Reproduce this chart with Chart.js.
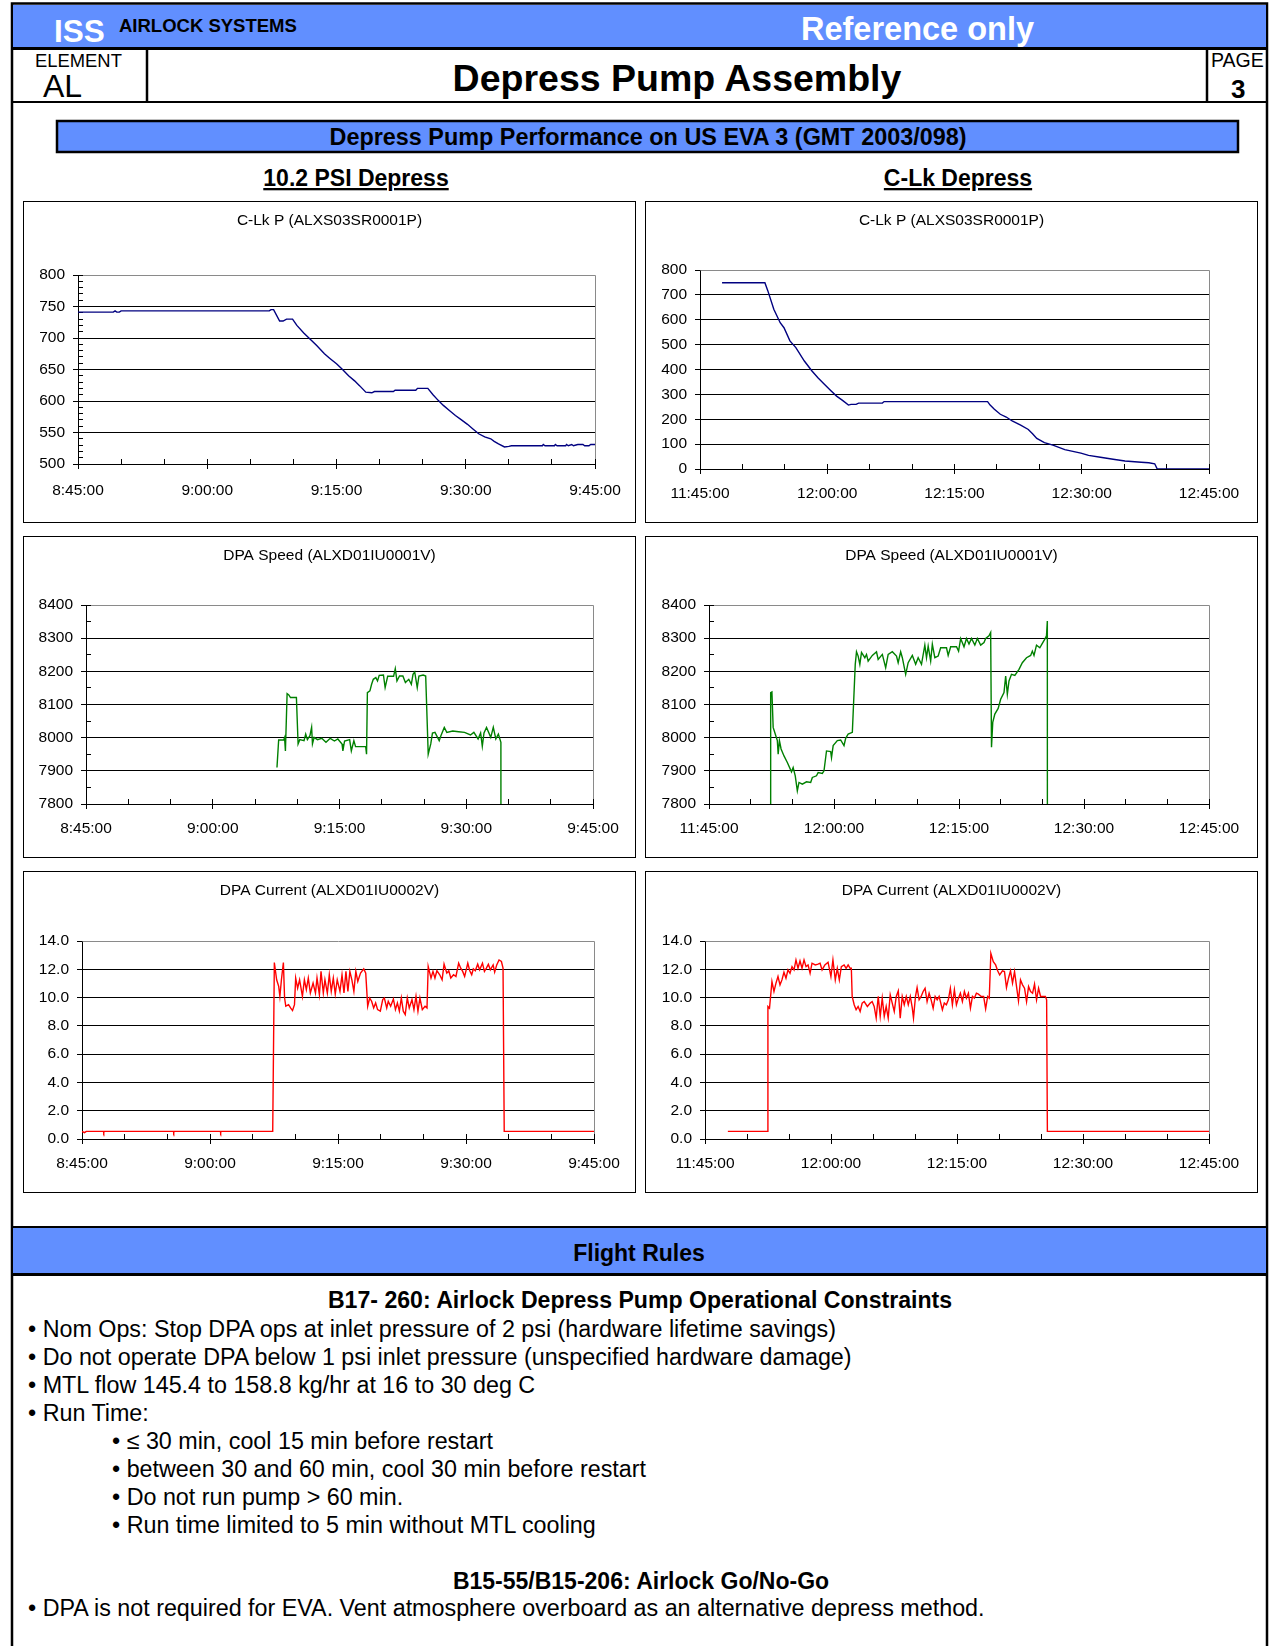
<!DOCTYPE html>
<html>
<head>
<meta charset="utf-8">
<title>Depress Pump Assembly</title>
<script src="https://cdn.jsdelivr.net/npm/chart.js@4.4.1/dist/chart.umd.min.js"></script>
<style>
  html, body { margin: 0; padding: 0; background: #fff; }
  body { width: 1270px; height: 1646px; position: relative; overflow: hidden; }
  #sheet { position: absolute; left: 0; top: 0; }
  #sheet text { font-family: 'Liberation Sans', Arial, sans-serif; }
  .box { position: absolute; width: 613px; height: 322px; box-sizing: border-box; border: 1px solid #000; background: #fff; }
  .box canvas { position: absolute; left: 0; top: 0; }
</style>
</head>
<body>

<svg id="sheet" width="1270" height="1646" xmlns="http://www.w3.org/2000/svg">
  <!-- page frame -->
  <rect x="12" y="3.5" width="1255" height="1660" fill="none" stroke="#000" stroke-width="2.5"/>
  <!-- top banner -->
  <rect x="13" y="5" width="1253" height="42" fill="#618fff"/>
  <line x1="13" y1="48.5" x2="1266" y2="48.5" stroke="#000" stroke-width="3"/>
  <text x="54" y="41.5" font-size="31.5" font-weight="bold" fill="#fff">ISS</text>
  <text x="119" y="32" font-size="18.5" font-weight="bold" fill="#000">AIRLOCK SYSTEMS</text>
  <text x="801" y="39.5" font-size="32.5" font-weight="bold" fill="#fff">Reference only</text>
  <!-- title row -->
  <line x1="147" y1="50" x2="147" y2="101" stroke="#000" stroke-width="2.5"/>
  <line x1="1207" y1="50" x2="1207" y2="101" stroke="#000" stroke-width="2.5"/>
  <line x1="13" y1="102" x2="1266" y2="102" stroke="#000" stroke-width="2"/>
  <text x="35" y="67" font-size="18.4">ELEMENT</text>
  <text x="43" y="97" font-size="32">AL</text>
  <text x="1211" y="67" font-size="19.5">PAGE</text>
  <text x="1231" y="98" font-size="26" font-weight="bold">3</text>
  <text x="677" y="91" font-size="37.5" font-weight="bold" text-anchor="middle">Depress Pump Assembly</text>
  <!-- section banner -->
  <rect x="57" y="121" width="1181" height="31" fill="#618fff" stroke="#000" stroke-width="2.5"/>
  <text x="648" y="145" font-size="23.4" font-weight="bold" text-anchor="middle">Depress Pump Performance on US EVA 3 (GMT 2003/098)</text>
  <text x="356" y="186" font-size="23" font-weight="bold" text-anchor="middle" style="text-decoration: underline">10.2 PSI Depress</text>
  <text x="958" y="186" font-size="23" font-weight="bold" text-anchor="middle" style="text-decoration: underline">C-Lk Depress</text>
  <!-- flight rules -->
  <line x1="13" y1="1227" x2="1266" y2="1227" stroke="#000" stroke-width="2"/>
  <rect x="13" y="1228" width="1253" height="45" fill="#618fff"/>
  <line x1="13" y1="1274.5" x2="1266" y2="1274.5" stroke="#000" stroke-width="3"/>
  <text x="639" y="1260.5" font-size="23" font-weight="bold" text-anchor="middle">Flight Rules</text>
  <text x="640" y="1308" font-size="23.1" font-weight="bold" text-anchor="middle">B17- 260: Airlock Depress Pump Operational Constraints</text>
  <text x="28" y="1337" font-size="23.3">• Nom Ops: Stop DPA ops at inlet pressure of 2 psi (hardware lifetime savings)</text>
  <text x="28" y="1365" font-size="23.3">• Do not operate DPA below 1 psi inlet pressure (unspecified hardware damage)</text>
  <text x="28" y="1393" font-size="23.3">• MTL flow 145.4 to 158.8 kg/hr at 16 to 30 deg C</text>
  <text x="28" y="1421" font-size="23.3">• Run Time:</text>
  <text x="112" y="1449" font-size="23.3">• ≤ 30 min, cool 15 min before restart</text>
  <text x="112" y="1477" font-size="23.3">• between 30 and 60 min, cool 30 min before restart</text>
  <text x="112" y="1505" font-size="23.3">• Do not run pump &gt; 60 min.</text>
  <text x="112" y="1533" font-size="23.3">• Run time limited to 5 min without MTL cooling</text>
  <text x="641" y="1588.5" font-size="23" font-weight="bold" text-anchor="middle">B15-55/B15-206: Airlock Go/No-Go</text>
  <text x="28" y="1616" font-size="23.3">• DPA is not required for EVA. Vent atmosphere overboard as an alternative depress method.</text>
</svg>

<div class="box" style="left:23px;top:201px"><canvas id="clkA" width="611" height="320"></canvas></div>
<div class="box" style="left:645px;top:201px"><canvas id="clkB" width="611" height="320"></canvas></div>
<div class="box" style="left:23px;top:536px"><canvas id="spdA" width="611" height="320"></canvas></div>
<div class="box" style="left:645px;top:536px"><canvas id="spdB" width="611" height="320"></canvas></div>
<div class="box" style="left:23px;top:871px"><canvas id="curA" width="611" height="320"></canvas></div>
<div class="box" style="left:645px;top:871px"><canvas id="curB" width="611" height="320"></canvas></div>

<script>
// time axis labels (one every 15 min); sample times below are minutes after the first label
const timesA = ['8:45:00', '9:00:00', '9:15:00', '9:30:00', '9:45:00'];
const timesB = ['11:45:00', '12:00:00', '12:15:00', '12:30:00', '12:45:00'];

// C-Lk pressure, 10.2 psi depress
const clkA_min = [0, 4.1, 4.3, 4.5, 4.8, 5.0, 5.3, 22.2, 22.4, 22.7, 23.4, 23.8, 24.2, 24.9, 25.4, 26.2, 26.8, 27.7, 28.6, 29.2, 30.0, 30.7, 31.4, 32.1, 32.7, 33.4, 34.1, 34.4, 36.6, 36.8, 39.2, 39.4, 40.6, 41.2, 41.8, 42.4, 43.1, 43.8, 44.5, 45.2, 45.8, 46.5, 47.2, 47.9, 48.3, 48.8, 49.5, 50.0, 50.3, 53.9, 54.0, 54.2, 55.3, 55.4, 55.6, 56.6, 56.7, 56.9, 57.3, 57.5, 58.0, 58.6, 58.8, 59.3, 59.5, 60];
const clkA_p = [741, 741, 743, 741, 741, 743, 743, 743, 745, 745, 727, 727, 730, 730, 720, 708, 700, 688, 675, 668, 659, 650, 640, 632, 624, 614, 613, 615, 615, 617, 617, 620, 620, 610, 601, 593, 585, 577, 570, 563, 556, 548, 543, 540, 536, 532, 527, 528, 529, 529, 531, 529, 529, 531, 529, 529, 531, 529, 531, 529, 531, 531, 529, 529, 531, 531];

// C-Lk pressure, C-Lk depress
const clkB_min = [2.6, 7.65, 8.0, 8.7, 9.45, 9.9, 10.6, 11.3, 12.3, 13.2, 13.9, 14.6, 15.4, 16.1, 16.8, 17.5, 17.8, 18.4, 18.7, 21.5, 21.7, 33.9, 34.2, 34.7, 35.4, 36.1, 36.8, 37.8, 38.7, 39.2, 39.7, 40.6, 41.6, 43.0, 44.9, 45.8, 47.2, 48.7, 50.1, 52.0, 52.9, 53.6, 53.9, 60];
const clkB_p = [749, 749, 716, 642, 588, 568, 515, 488, 434, 394, 367, 343, 316, 293, 276, 257, 260, 260, 265, 265, 271, 271, 257, 240, 220, 209, 193, 176, 159, 142, 123, 106, 96, 78, 64, 55, 47, 39, 32, 27, 25, 21, 0, 0];

// DPA speed, 10.2 psi depress
const spdA_min = [22.6, 22.8, 23.4, 23.5, 23.6, 23.8, 24.0, 24.2, 24.9, 25.1, 25.3, 25.8, 26.0, 26.2, 26.5, 26.7, 26.8, 27.0, 27.4, 27.9, 28.4, 28.9, 29.4, 29.8, 30.3, 30.4, 30.6, 31.2, 31.4, 31.7, 31.9, 33.1, 33.2, 33.3, 33.6, 33.8, 34.0, 34.3, 34.5, 34.7, 35.2, 35.4, 35.7, 36.4, 36.6, 36.8, 37.1, 37.5, 37.8, 38.2, 38.5, 38.7, 38.9, 39.2, 39.4, 39.9, 40.2, 40.5, 40.8, 41.0, 41.3, 41.8, 42.0, 42.4, 42.7, 43.4, 44.1, 44.8, 45.5, 45.9, 46.4, 46.7, 46.9, 47.1, 47.4, 47.9, 48.2, 48.5, 48.8, 49.1, 49.3];
const spdA_rpm = [7910, 7993, 7993, 8000, 7960, 8133, 8129, 8121, 8121, 7981, 7994, 7991, 8011, 7994, 8006, 8031, 7981, 8001, 7994, 7998, 7986, 7998, 7990, 7996, 7981, 7960, 7990, 7994, 7960, 7991, 7973, 7973, 7950, 8136, 8141, 8161, 8176, 8181, 8171, 8188, 8189, 8151, 8185, 8185, 8208, 8171, 8186, 8186, 8166, 8176, 8161, 8191, 8198, 8151, 8186, 8189, 8186, 7950, 7981, 8014, 8016, 7991, 8006, 8031, 8016, 8020, 8018, 8016, 8008, 8016, 7996, 8014, 7974, 8014, 8031, 8001, 8031, 7996, 8011, 7986, 0];

// DPA speed, C-Lk depress
const spdB_min = [7.35, 7.4, 7.55, 7.7, 7.95, 8.2, 8.3, 8.45, 8.65, 9.0, 9.4, 9.9, 10.1, 10.35, 10.6, 10.8, 11.2, 11.7, 12.2, 12.4, 12.9, 13.1, 13.6, 13.8, 14.1, 14.6, 14.7, 14.9, 15.4, 15.8, 16.2, 16.4, 16.7, 17.2, 17.55, 17.7, 17.9, 18.1, 18.3, 18.7, 18.9, 19.1, 19.6, 20.1, 20.3, 20.8, 21.2, 21.5, 22.0, 22.5, 22.7, 23.0, 23.2, 23.6, 23.9, 24.4, 24.8, 25.1, 25.5, 25.9, 26.1, 26.3, 26.6, 26.8, 27.1, 27.5, 27.8, 28.5, 28.7, 29.0, 29.7, 29.95, 30.2, 30.6, 30.9, 31.2, 31.5, 31.9, 32.2, 32.6, 33.0, 33.2, 33.6, 33.8, 33.9, 34.05, 34.3, 34.7, 35.0, 35.4, 35.6, 35.8, 36.0, 36.3, 36.7, 37.2, 37.6, 38.1, 38.6, 38.8, 39.0, 39.3, 39.7, 39.95, 40.3, 40.5, 40.6, 40.7];
const spdB_rpm = [0, 8136, 8138, 8031, 8011, 7991, 7950, 7991, 7966, 7945, 7925, 7897, 7910, 7885, 7840, 7865, 7860, 7867, 7865, 7880, 7885, 7895, 7892, 7900, 7960, 7958, 7940, 7976, 7991, 7993, 7976, 7998, 8011, 8016, 8221, 8259, 8246, 8221, 8257, 8241, 8251, 8231, 8248, 8259, 8236, 8251, 8211, 8251, 8259, 8246, 8226, 8259, 8241, 8191, 8226, 8248, 8221, 8241, 8221, 8279, 8241, 8276, 8231, 8282, 8241, 8246, 8271, 8271, 8248, 8274, 8274, 8261, 8299, 8274, 8299, 8282, 8299, 8279, 8299, 8279, 8287, 8299, 8307, 8317, 7971, 8046, 8071, 8088, 8116, 8136, 8186, 8131, 8171, 8191, 8188, 8206, 8226, 8241, 8248, 8261, 8248, 8279, 8271, 8282, 8297, 8307, 8352, 0];

// DPA current, 10.2 psi depress
const curA_min = [0, 0.3, 0.5, 2.5, 2.55, 2.6, 10.7, 10.75, 10.8, 16.2, 16.25, 16.3, 22.35, 22.54, 22.81, 23.05, 23.19, 23.37, 23.6, 23.74, 23.88, 24.21, 24.44, 24.67, 24.9, 25.04, 25.27, 25.5, 25.83, 26.06, 26.29, 26.52, 26.76, 27.08, 27.36, 27.54, 27.82, 28.01, 28.28, 28.47, 28.75, 28.98, 29.21, 29.45, 29.68, 29.91, 30.23, 30.47, 30.7, 30.93, 31.16, 31.39, 31.62, 31.86, 32.09, 32.32, 32.64, 33.02, 33.25, 33.48, 33.71, 33.94, 34.18, 34.41, 34.64, 34.96, 35.24, 35.43, 35.71, 35.89, 36.17, 36.49, 36.73, 36.96, 37.19, 37.42, 37.65, 37.88, 38.12, 38.35, 38.67, 38.9, 39.14, 39.37, 39.6, 39.88, 40.2, 40.43, 40.57, 40.9, 41.13, 41.36, 41.59, 41.92, 42.2, 42.43, 42.75, 42.98, 43.22, 43.54, 43.82, 44.14, 44.38, 44.61, 44.84, 45.21, 45.44, 45.67, 45.86, 46.09, 46.37, 46.6, 46.93, 47.16, 47.39, 47.62, 47.85, 48.18, 48.36, 48.6, 48.87, 49.15, 49.34, 49.48, 60];
const curA_amp = [0.54, 0.45, 0.54, 0.54, 0.45, 0.54, 0.54, 0.45, 0.54, 0.54, 0.45, 0.54, 0.54, 12.48, 11.26, 10.79, 10.09, 11.26, 12.48, 9.97, 9.39, 9.5, 9.27, 9.08, 9.5, 11.38, 10.67, 11.26, 10.09, 11.26, 10.56, 11.38, 10.32, 11.03, 10.32, 11.38, 10.21, 11.85, 10.32, 11.26, 10.32, 11.61, 10.44, 11.38, 10.25, 11.26, 10.44, 11.61, 10.32, 11.85, 10.44, 11.85, 11.26, 10.44, 11.85, 11.14, 11.73, 12.03, 11.73, 9.39, 9.97, 9.74, 9.27, 9.62, 9.15, 9.04, 9.86, 9.97, 9.27, 9.74, 9.39, 9.9, 9.15, 9.62, 9.04, 9.97, 9.04, 8.8, 9.97, 9.27, 9.86, 9.15, 10.09, 9.04, 9.97, 9.15, 9.39, 9.27, 12.2, 11.38, 11.85, 11.38, 11.9, 11.61, 11.26, 12.36, 11.73, 11.9, 11.38, 11.61, 11.49, 12.43, 12.08, 11.85, 11.49, 12.43, 11.9, 11.61, 12.03, 11.9, 12.36, 11.96, 12.43, 11.85, 12.08, 12.36, 11.96, 12.31, 11.8, 12.31, 12.66, 12.55, 12.08, 0.54, 0.54];

// DPA current, C-Lk depress
const curB_min = [2.72, 7.4, 7.49, 7.68, 7.97, 8.21, 8.45, 8.69, 8.93, 9.16, 9.4, 9.64, 9.88, 10.12, 10.36, 10.6, 10.83, 11.07, 11.31, 11.55, 11.79, 12.03, 12.27, 12.51, 12.74, 13.13, 13.46, 13.7, 13.94, 14.27, 14.65, 14.99, 15.23, 15.51, 15.75, 15.99, 16.23, 16.56, 16.8, 17.04, 17.28, 17.42, 17.52, 17.76, 17.99, 18.23, 18.47, 18.71, 18.95, 19.33, 19.67, 19.9, 20.14, 20.38, 20.62, 20.86, 21.1, 21.34, 21.57, 21.81, 22.05, 22.29, 22.53, 22.77, 23.01, 23.24, 23.48, 23.72, 23.96, 24.2, 24.44, 24.68, 24.82, 25.06, 25.25, 25.49, 25.73, 25.97, 26.2, 26.44, 26.68, 26.92, 27.16, 27.4, 27.64, 27.87, 28.26, 28.49, 28.73, 28.97, 29.21, 29.45, 29.69, 29.93, 30.17, 30.4, 30.64, 30.88, 31.12, 31.36, 31.6, 31.84, 32.07, 32.31, 32.55, 32.89, 33.17, 33.41, 33.65, 33.84, 34.03, 34.32, 34.6, 34.84, 35.08, 35.41, 35.65, 35.89, 36.13, 36.37, 36.61, 36.85, 37.09, 37.32, 37.56, 37.8, 38.04, 38.28, 38.52, 38.76, 39.0, 39.23, 39.47, 39.71, 39.95, 40.52, 40.67, 40.76, 60];
const curB_amp = [0.54, 0.54, 9.37, 9.25, 11.13, 10.43, 11.02, 11.49, 10.9, 11.25, 11.79, 11.37, 11.96, 11.72, 12.19, 11.96, 12.66, 12.07, 12.59, 12.07, 12.66, 12.19, 12.31, 11.72, 12.43, 12.31, 12.36, 12.43, 11.96, 12.31, 12.5, 11.49, 12.66, 11.25, 12.07, 11.25, 12.19, 12.31, 12.07, 12.31, 12.07, 12.07, 10.08, 9.49, 9.14, 9.37, 9.02, 9.61, 9.72, 9.37, 9.61, 9.72, 9.37, 8.55, 10.08, 8.67, 9.96, 8.67, 9.37, 8.55, 10.19, 9.61, 9.02, 10.08, 10.48, 8.55, 10.08, 9.49, 10.08, 9.49, 10.08, 9.25, 8.55, 10.08, 10.71, 9.84, 10.08, 10.43, 10.66, 9.72, 10.31, 9.84, 9.25, 10.08, 9.84, 10.08, 9.14, 9.61, 9.49, 9.84, 10.66, 9.49, 10.55, 9.49, 9.96, 10.31, 9.72, 10.43, 9.96, 10.31, 9.25, 10.08, 9.96, 10.31, 10.24, 10.08, 10.08, 9.2, 10.08, 9.96, 13.13, 12.54, 12.31, 11.89, 11.6, 11.89, 11.84, 10.71, 11.37, 11.89, 11.02, 11.84, 10.78, 9.77, 11.25, 10.9, 10.66, 9.72, 10.78, 10.43, 10.31, 10.95, 9.84, 10.66, 10.08, 10.08, 9.84, 0.54, 0.54];

const FONT = "'Liberation Sans', Arial, sans-serif";
Chart.defaults.font.family = FONT;
Chart.defaults.font.size = 15.5;
Chart.defaults.color = '#000';

// same rounding Chart.js uses for crisp 1px lines
const crisp = v => Math.round(v - 0.5) + 0.5;

// grey frame on the top and right edges of the plot area
const plotFrame = {
  id: 'plotFrame',
  beforeDatasetsDraw(chart) {
    const { ctx, chartArea: a } = chart;
    ctx.save();
    ctx.strokeStyle = '#8a8a8a';
    ctx.lineWidth = 1;
    ctx.beginPath();
    ctx.moveTo(crisp(a.left), crisp(a.top));
    ctx.lineTo(crisp(a.right), crisp(a.top));
    ctx.lineTo(crisp(a.right), a.bottom);
    ctx.stroke();
    ctx.restore();
  }
};

// short ticks pointing into the plot (every 5 min on x, optional on y)
const minorTicks = {
  id: 'minorTicks',
  beforeDatasetsDraw(chart, args, opts) {
    const { ctx, chartArea: a, scales: { x, y } } = chart;
    const len = opts.len || 5;
    ctx.save();
    ctx.strokeStyle = '#000';
    ctx.lineWidth = 1;
    ctx.beginPath();
    if (opts.x) {
      for (let v = x.min; v <= x.max + 1e-6; v += opts.x) {
        const px = crisp(x.getPixelForValue(v));
        ctx.moveTo(px, a.bottom);
        ctx.lineTo(px, a.bottom - len);
      }
    }
    if (opts.y) {
      for (let v = y.min; v <= y.max + 1e-6; v += opts.y) {
        const py = crisp(y.getPixelForValue(v));
        ctx.moveTo(a.left, py);
        ctx.lineTo(a.left + len, py);
      }
    }
    ctx.stroke();
    ctx.restore();
  }
};

// panel caption centred on the whole canvas (the built-in title is
// centred inside the layout padding, which is uneven here)
const panelTitle = {
  id: 'panelTitle',
  afterDraw(chart, args, opts) {
    const { ctx } = chart;
    ctx.save();
    ctx.font = `15.5px ${FONT}`;
    ctx.fillStyle = '#000';
    ctx.textAlign = 'center';
    ctx.textBaseline = 'middle';
    ctx.fillText(opts.text, chart.width / 2, opts.y);
    ctx.restore();
  }
};

function drawPanel(id, o) {
  const pts = o.t.map((t, i) => ({ x: t, y: o.v[i] }));
  new Chart(document.getElementById(id), {
    type: 'line',
    data: {
      datasets: [{
        data: pts,
        borderColor: o.color,
        borderWidth: 1.4,
        pointRadius: 0,
        tension: 0,
        fill: false
      }]
    },
    options: {
      responsive: false,
      animation: false,
      events: [],
      layout: { padding: { left: 0, right: o.area.right, top: o.area.top, bottom: 0 } },
      plugins: {
        legend: { display: false },
        tooltip: { enabled: false },
        title: { display: false },
        panelTitle: { text: o.title, y: 19 },
        minorTicks: { x: 5, y: o.yMinor, len: 5 }
      },
      scales: {
        x: {
          type: 'linear',
          min: 0,
          max: 60,
          afterFit: s => { s.height = o.area.bottom; },
          border: { color: '#000', width: 1 },
          grid: { drawOnChartArea: false, color: '#000', tickLength: 5 },
          ticks: {
            stepSize: 15,
            autoSkip: false,
            maxRotation: 0,
            padding: o.xPad,
            callback: v => o.labels[Math.round(v / 15)]
          }
        },
        y: {
          min: o.yMin,
          max: o.yMax,
          afterFit: s => { s.width = o.area.left; },
          border: { color: '#000', width: 1 },
          grid: {
            color: c => (c.tick && c.tick.value === o.yMax) ? 'rgba(0,0,0,0)' : '#000',
            tickColor: '#000',
            tickLength: 5
          },
          ticks: {
            stepSize: o.yStep,
            padding: 8,
            callback: v => v.toFixed(o.dec)
          }
        }
      }
    },
    plugins: [plotFrame, minorTicks, panelTitle]
  });
}

drawPanel('clkA', {
  title: 'C-Lk P (ALXS03SR0001P)', t: clkA_min, v: clkA_p, labels: timesA,
  color: '#000080', yMin: 500, yMax: 800, yStep: 50, yMinor: 10, dec: 0,
  area: { left: 54, top: 73, right: 40, bottom: 58 }, xPad: 12
});
drawPanel('clkB', {
  title: 'C-Lk P (ALXS03SR0001P)', t: clkB_min, v: clkB_p, labels: timesB,
  color: '#000080', yMin: 0, yMax: 800, yStep: 100, yMinor: null, dec: 0,
  area: { left: 54, top: 68, right: 48, bottom: 53 }, xPad: 10
});
drawPanel('spdA', {
  title: 'DPA Speed (ALXD01IU0001V)', t: spdA_min, v: spdA_rpm, labels: timesA,
  color: '#008000', yMin: 7800, yMax: 8400, yStep: 100, yMinor: 50, dec: 0,
  area: { left: 62, top: 68, right: 42, bottom: 53 }, xPad: 10
});
drawPanel('spdB', {
  title: 'DPA Speed (ALXD01IU0001V)', t: spdB_min, v: spdB_rpm, labels: timesB,
  color: '#008000', yMin: 7800, yMax: 8400, yStep: 100, yMinor: 50, dec: 0,
  area: { left: 63, top: 68, right: 48, bottom: 53 }, xPad: 10
});
drawPanel('curA', {
  title: 'DPA Current (ALXD01IU0002V)', t: curA_min, v: curA_amp, labels: timesA,
  color: '#ff0000', yMin: 0, yMax: 14, yStep: 2, yMinor: null, dec: 1,
  area: { left: 58, top: 69, right: 41, bottom: 53 }, xPad: 10
});
drawPanel('curB', {
  title: 'DPA Current (ALXD01IU0002V)', t: curB_min, v: curB_amp, labels: timesB,
  color: '#ff0000', yMin: 0, yMax: 14, yStep: 2, yMinor: null, dec: 1,
  area: { left: 59, top: 69, right: 48, bottom: 53 }, xPad: 10
});
</script>
</body>
</html>
